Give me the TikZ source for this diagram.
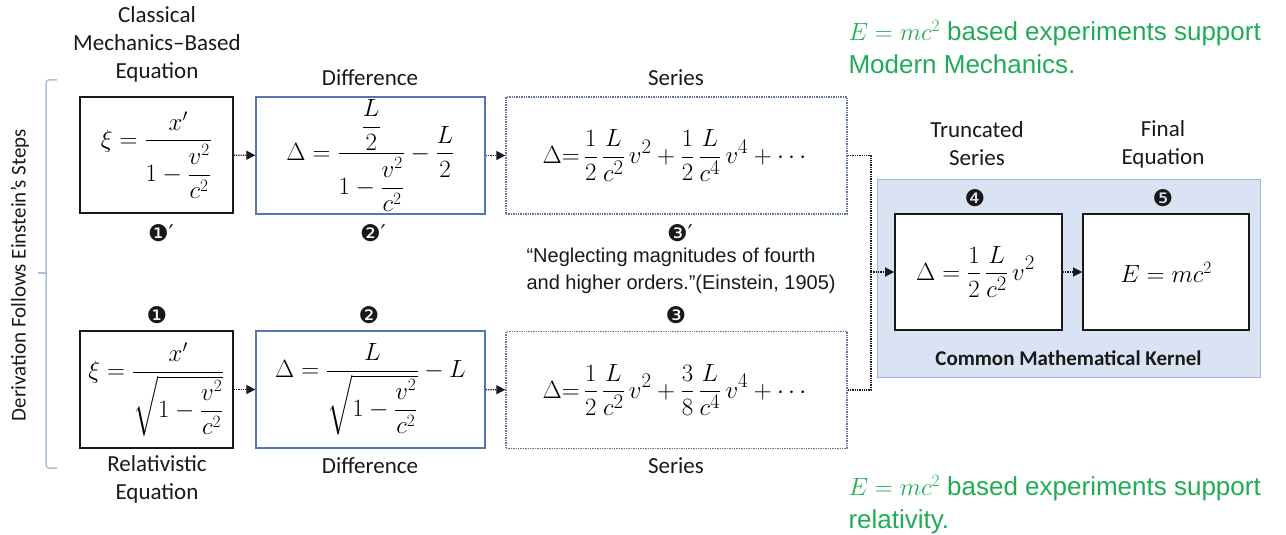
\documentclass[tikz,border=0pt]{standalone}
\usepackage{amsmath}
\usepackage{fontspec}
\setmainfont{Carlito}
\newfontfamily\quotefont{Liberation Sans}
\newfontfamily\dingfont{DejaVu Sans}
\usetikzlibrary{arrows.meta,positioning}
\definecolor{kernink}{RGB}{25,25,25}
\definecolor{kernblue}{RGB}{86,118,178}
\definecolor{kerndot}{RGB}{96,116,156}
\definecolor{kernfill}{RGB}{218,227,243}
\definecolor{kernedge}{RGB}{160,182,222}
\definecolor{kernbrace}{RGB}{172,190,226}
\definecolor{kerngreen}{RGB}{32,172,84}

\begin{document}
\begin{tikzpicture}[x=1pt,y=-1pt,
  eq/.style={draw=kernink,line width=1.6pt,fill=white,inner sep=0pt,font=\fontsize{27}{32}\selectfont},
  eqb/.style={eq,draw=kernblue,line width=1.3pt},
  eqd/.style={eq,draw=kerndot,line width=1.4pt,densely dotted,font=\fontsize{30}{34}\selectfont},
  lbl/.style={align=center,font=\fontsize{23}{28}\selectfont,text=kernink},
  num/.style={font=\dingfont\fontsize{23}{26}\selectfont,text=kernink,inner sep=0pt},
  link/.style={draw=kernink,line width=1.3pt,densely dotted},
  arr/.style={link,-{Triangle[length=9pt,width=9pt]}},
  note/.style={align=left,anchor=west,font=\quotefont\fontsize{26}{33}\selectfont,text=kerngreen}]
\useasboundingbox (0,0) rectangle (1286,535);
% Common kernel behind steps 4 and 5
\node[draw=kernedge,fill=kernfill,line width=1pt,minimum width=383pt,minimum height=198pt] (kern) at (1068.5,278) {};
\node[font=\bfseries\fontsize{21}{24}\selectfont,text=kernink] (kernlbl) at (1068.5,358) {Common Mathematical Kernel};

\node[eq,minimum width=153pt,minimum height=116pt] (c1) at (156.5,155) {$\displaystyle \xi=\frac{x'}{1-\dfrac{v^2}{c^2}}$};
\node[eqb,minimum width=229pt,minimum height=117pt] (c2) at (370.5,155.5) {$\displaystyle \Delta=\frac{\dfrac{L}{2}}{1-\dfrac{v^2}{c^2}}-\frac{L}{2}$};
\node[eqd,minimum width=341pt,minimum height=117pt] (c3) at (676.5,155.5) {$\displaystyle \Delta{=}\,\frac{1}{2}\,\frac{L}{c^2}\,v^2+\frac{1}{2}\,\frac{L}{c^4}\,v^4+\cdots$};
\node[eq,minimum width=153pt,minimum height=117pt] (r1) at (156.5,389.5) {$\displaystyle \xi=\frac{x'}{\sqrt{1-\dfrac{v^2}{c^2}}}$};
\node[eqb,minimum width=229pt,minimum height=117pt] (r2) at (370.5,389.5) {$\displaystyle \Delta=\frac{L}{\sqrt{1-\dfrac{v^2}{c^2}}}-L$};
\node[eqd,minimum width=341pt,minimum height=117pt] (r3) at (676.5,390) {$\displaystyle \Delta{=}\,\frac{1}{2}\,\frac{L}{c^2}\,v^2+\frac{3}{8}\,\frac{L}{c^4}\,v^4+\cdots$};
\node[eq,minimum width=167pt,minimum height=116pt,font=\fontsize{29}{33}\selectfont] (t4) at (978.5,272) {$\displaystyle \Delta=\frac{1}{2}\,\frac{L}{c^2}\,v^2\hspace{6pt}$};
\node[eq,minimum width=166pt,minimum height=116pt] (f5) at (1166,272) {$E=mc^2$};

\node[lbl] (c1lbl) at (157,44) {Classical\\Mechanics–Based\\Equation};
\node[lbl] (c2lbl) at (370,78) {Difference};
\node[lbl] (c3lbl) at (676,78) {Series};
\node[lbl] (r1lbl) at (157,479) {Relativistic\\Equation};
\node[lbl] (r2lbl) at (370,466) {Difference};
\node[lbl] (r3lbl) at (676,466) {Series};
\node[lbl] (t4lbl) at (977,144) {Truncated\\Series};
\node[lbl] (f5lbl) at (1163,144) {Final\\Equation};

\node[num] (n1p) at (161,233) {❶′};
\node[num] (n2p) at (373,233) {❷′};
\node[num] (n3p) at (680,233) {❸′};
\node[num] (n1) at (157,315) {❶};
\node[num] (n2) at (369,315) {❷};
\node[num] (n3) at (676,315) {❸};
\node[num] (n4) at (975,198) {❹};
\node[num] (n5) at (1163,198) {❺};

\node[align=left,anchor=west,font=\quotefont\fontsize{20}{27}\selectfont,text=kernink] (quote) at (523,271) {“Neglecting magnitudes of fourth\\and higher orders.”(Einstein, 1905)};

\node[note] (topnote) at (845,47) {$E=mc^2$ based experiments support\\Modern Mechanics.};
\node[note] (botnote) at (845,505) {$E=mc^2$ based experiments support\\relativity.};

\node[rotate=90,font=\fontsize{21}{24}\selectfont,text=kernink] (steps) at (20,275) {Derivation Follows Einstein’s Steps};
\draw[draw=kernbrace,line width=1.5pt,rounded corners=3pt] (57,80) -- (46,80) -- (46,468) -- (57,468);
\draw[draw=kernbrace,line width=1.5pt] (46,273) -- (38,273);

\draw[arr] (c1) -- (c2);
\draw[arr] (c2) -- (c3);
\draw[arr] (r1) -- (r2);
\draw[arr] (r2) -- (r3);
\coordinate (jn) at (871,272);
\draw[link] (c3.east) -| (jn);
\draw[link] (r3.east) -| (jn);
\draw[arr] (jn) -- (t4.west);
\draw[arr] (t4) -- (f5);
\end{tikzpicture}
\end{document}
